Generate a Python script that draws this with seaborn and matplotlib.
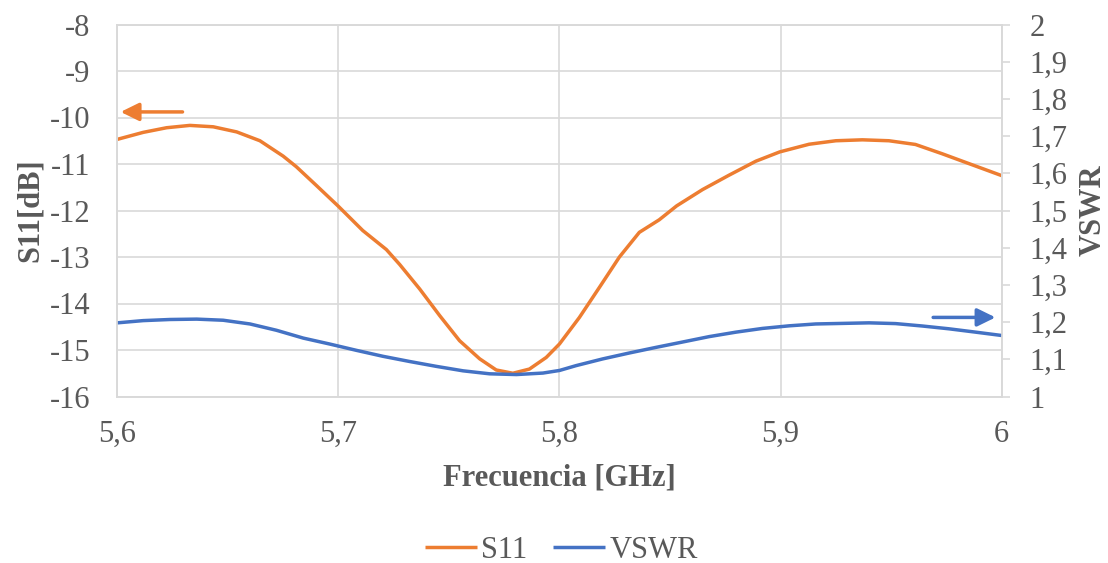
import matplotlib
matplotlib.use("Agg")
import matplotlib.pyplot as plt
import seaborn as sns
import pandas as pd
from matplotlib.ticker import FixedLocator, FixedFormatter

# ---- data ----
s11_freq = [5.6000, 5.6117, 5.6223, 5.6328, 5.6434, 5.6540, 5.6645, 5.6750, 5.6810, 5.6900,
            5.7000, 5.7110, 5.7217, 5.7277, 5.7368, 5.7458, 5.7548, 5.7639, 5.7714, 5.7789,
            5.7864, 5.7940, 5.8000, 5.8090, 5.8181, 5.8271, 5.8361, 5.8451, 5.8530, 5.8647,
            5.8767, 5.8888, 5.8996, 5.9129, 5.9250, 5.9370, 5.9490, 5.9610, 5.9731, 5.9851,
            6.0000]
s11_db = [-10.47, -10.32, -10.22, -10.17, -10.20, -10.31, -10.50, -10.83, -11.06, -11.46,
          -11.91, -12.43, -12.84, -13.16, -13.69, -14.26, -14.80, -15.19, -15.43, -15.50,
          -15.41, -15.16, -14.87, -14.30, -13.65, -13.00, -12.47, -12.20, -11.90, -11.55,
          -11.24, -10.94, -10.74, -10.575, -10.50, -10.48, -10.50, -10.58, -10.78, -10.99,
          -11.25]

vswr_freq = [5.6000, 5.6117, 5.6238, 5.6359, 5.6479, 5.6600, 5.6720, 5.6841, 5.6961, 5.7082,
             5.7202, 5.7323, 5.7443, 5.7564, 5.7684, 5.7805, 5.7925, 5.8000, 5.8075, 5.8195,
             5.8316, 5.8436, 5.8557, 5.8677, 5.8798, 5.8918, 5.9039, 5.9159, 5.9280, 5.9400,
             5.9520, 5.9641, 5.9761, 5.9882, 6.0000]
vswr_val = [1.198, 1.204, 1.207, 1.208, 1.205, 1.195, 1.178, 1.157, 1.141, 1.124,
            1.108, 1.094, 1.081, 1.069, 1.061, 1.059, 1.063, 1.070, 1.083, 1.101,
            1.117, 1.132, 1.1465, 1.161, 1.173, 1.183, 1.190, 1.195, 1.1965, 1.198,
            1.196, 1.1895, 1.182, 1.173, 1.164]

x_ticks = [5.6, 5.7, 5.8, 5.9, 6.0]
x_labels = ["5,6", "5,7", "5,8", "5,9", "6"]
left_ticks = [-16, -15, -14, -13, -12, -11, -10, -9, -8]
left_labels = ["-16", "-15", "-14", "-13", "-12", "-11", "-10", "-9", "-8"]
right_ticks = [1.0, 1.1, 1.2, 1.3, 1.4, 1.5, 1.6, 1.7, 1.8, 1.9, 2.0]
right_labels = ["1", "1,1", "1,2", "1,3", "1,4", "1,5", "1,6", "1,7", "1,8", "1,9", "2"]

ORANGE = "#ED7D31"
BLUE = "#4472C4"
GRID = "#D9D9D9"
TEXT = "#595959"
FS = 22

sns.set_theme(style="white")
plt.rcParams["font.family"] = ["Liberation Serif", "DejaVu Serif"]

W, H = 1108, 563
fig = plt.figure(figsize=(W / 100, H / 100), dpi=100)
ax = fig.add_axes([117.3 / W, 1 - 396.5 / H, 884.4 / W, 372 / H])
ax2 = ax.twinx()

df1 = pd.DataFrame({"f": s11_freq, "v": s11_db})
df2 = pd.DataFrame({"f": vswr_freq, "v": vswr_val})
sns.lineplot(data=df1, x="f", y="v", ax=ax, color=ORANGE, lw=2.5, label="S11", legend=False)
sns.lineplot(data=df2, x="f", y="v", ax=ax2, color=BLUE, lw=2.5, label="VSWR", legend=False)
for ln in ax.get_lines() + ax2.get_lines():
    ln.set_solid_joinstyle("round")
    ln.set_solid_capstyle("butt")

ax.set_xlim(5.6, 6.0)
ax.set_ylim(-16, -8)
ax2.set_ylim(1, 2)

ax.xaxis.set_major_locator(FixedLocator(x_ticks))
ax.xaxis.set_major_formatter(FixedFormatter(x_labels))
ax.yaxis.set_major_locator(FixedLocator(left_ticks))
ax.yaxis.set_major_formatter(FixedFormatter(left_labels))
ax2.yaxis.set_major_locator(FixedLocator(right_ticks))
ax2.yaxis.set_major_formatter(FixedFormatter(right_labels))

ax.grid(True, color=GRID, lw=1.2)
ax.set_axisbelow(True)
ax2.grid(False)

for a in (ax, ax2):
    for s in a.spines.values():
        s.set_color(GRID)
        s.set_linewidth(1.2)

ax.tick_params(axis="x", length=0, pad=17, labelsize=FS, labelcolor=TEXT)
ax.tick_params(axis="y", length=0, pad=19.5, labelsize=FS, labelcolor=TEXT)
ax2.tick_params(axis="y", direction="out", length=6, width=1.2, color=GRID,
                pad=14, labelsize=FS, labelcolor=TEXT)

ax.set_xlabel("Frecuencia [GHz]", fontsize=FS, fontweight="bold", color=TEXT)
ax.xaxis.set_label_coords(0.5, -0.219)
ax.xaxis.label.set_va("center")
ax.set_ylabel("S11[dB]", fontsize=FS, fontweight="bold", color=TEXT)
ax.yaxis.set_label_coords(-0.098, 0.5)
ax.yaxis.label.set_va("center")
ax2.set_ylabel("VSWR", fontsize=FS, fontweight="bold", color=TEXT, rotation=90)
ax2.yaxis.set_label_coords(1.103, 0.5)
ax2.yaxis.label.set_va("center")

# indicator arrows
astyle = "-|>,head_length=0.55,head_width=0.27"
ax.annotate("", xy=(5.6015, -9.88), xytext=(5.6295, -9.88),
            arrowprops=dict(arrowstyle=astyle, mutation_scale=20,
                            color=ORANGE, lw=2.5, shrinkA=0, shrinkB=0))
ax2.annotate("", xy=(5.9972, 1.2126), xytext=(5.969, 1.2126),
             arrowprops=dict(arrowstyle=astyle, mutation_scale=20,
                             color=BLUE, lw=2.5, shrinkA=0, shrinkB=0))

h1, l1 = ax.get_legend_handles_labels()
h2, l2 = ax2.get_legend_handles_labels()
leg = fig.legend(h1 + h2, l1 + l2, loc="center", bbox_to_anchor=(561.5 / W, 1 - 550 / H),
                 ncol=2, frameon=False, fontsize=FS, handlelength=1.7,
                 handletextpad=0.15, columnspacing=0.85, borderpad=0, borderaxespad=0)
for t in leg.get_texts():
    t.set_color(TEXT)

fig.savefig("out.png", dpi=100, facecolor="white")
